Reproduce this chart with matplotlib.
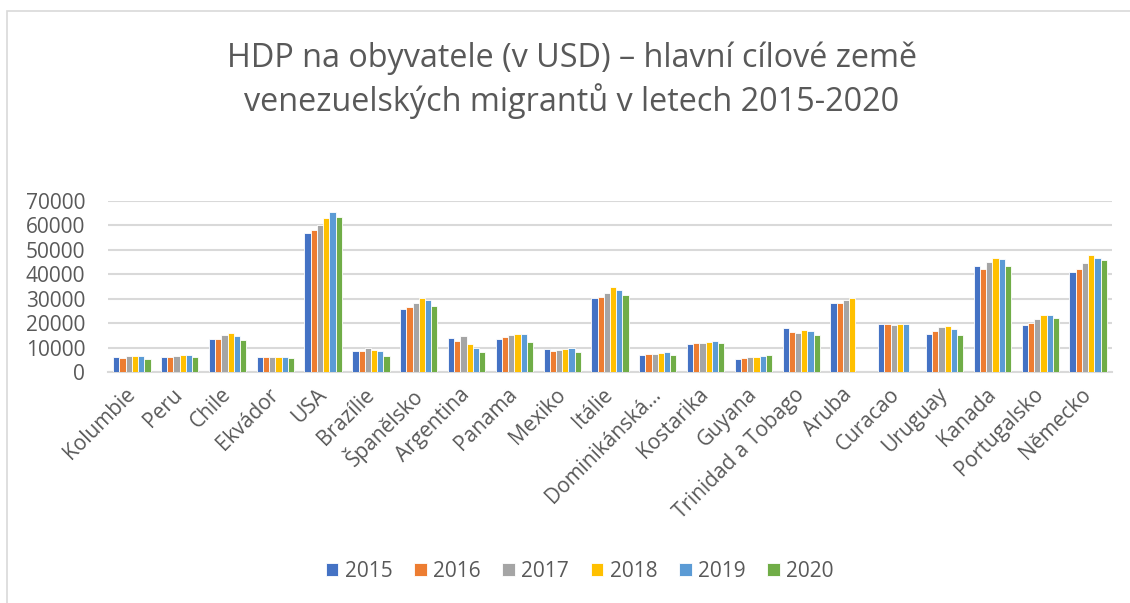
import numpy as np
import matplotlib.pyplot as plt
from matplotlib.patches import Rectangle

plt.rcParams['font.family'] = ['Open Sans', 'DejaVu Sans']

countries = ["Kolumbie", "Peru", "Chile", "Ekvádor", "USA", "Brazílie",
             "Španělsko", "Argentina", "Panama", "Mexiko", "Itálie",
             "Dominikánská...", "Kostarika", "Guyana", "Trinidad a Tobago",
             "Aruba", "Curacao", "Uruguay", "Kanada", "Portugalsko", "Německo"]
years = ["2015", "2016", "2017", "2018", "2019", "2020"]

nan = np.nan
gdp_2015 = [6150, 6150, 13500, 5950, 56900, 8800, 25700, 13800, 13600, 9500,
            30200, 6800, 11400, 5400, 18200, 28300, 19800, 15500, 43500, 19200, 41000]
gdp_2016 = [5700, 6200, 13600, 5950, 58100, 8600, 26500, 12700, 14300, 8600,
            30900, 7200, 11800, 5650, 16200, 28400, 19600, 16600, 42300, 19900, 42100]
gdp_2017 = [6350, 6700, 15000, 6050, 60200, 9900, 28200, 14600, 15100, 9100,
            32300, 7500, 12050, 5950, 16100, 29300, 19400, 18600, 45100, 21500, 44600]
gdp_2018 = [6650, 7000, 15800, 6200, 63000, 9000, 30400, 11500, 15500, 9500,
            34600, 7950, 12400, 6000, 17100, 30200, 19600, 18700, 46500, 23500, 47800]
gdp_2019 = [6350, 7000, 14600, 6100, 65300, 8800, 29500, 9900, 15700, 9800,
            33500, 8150, 12550, 6500, 16700, nan, 19700, 17700, 46300, 23200, 46500]
gdp_2020 = [5200, 6050, 13200, 5550, 63500, 6750, 27000, 8300, 12100, 8200,
            31600, 7150, 12000, 6900, 15300, nan, nan, 15300, 43200, 22300, 45800]
series = [gdp_2015, gdp_2016, gdp_2017, gdp_2018, gdp_2019, gdp_2020]
colors = ["#4472C4", "#ED7D31", "#A5A5A5", "#FFC000", "#5B9BD5", "#70AD47"]

text_col = "#595959"
grid_col = "#D9D9D9"

fig = plt.figure(figsize=(11.3, 6.03), dpi=100)

# chart frame like Excel
fig.patches.append(Rectangle((7 / 1130, -0.05), 1.2, (603 - 11) / 603 + 0.05,
                             transform=fig.transFigure, fill=False,
                             edgecolor=grid_col, lw=1.2))

ax = fig.add_axes([108 / 1130, (603 - 372) / 603, 1004 / 1130, 171 / 603])

x = np.arange(len(countries))
bw = 0.13
for i, (vals, c, yr) in enumerate(zip(series, colors, years)):
    ax.bar(x + (i - 2.5) * bw, vals, width=bw, color=c, edgecolor="white",
           linewidth=0.6, label=yr, zorder=3)

ax.set_xlim(-0.5, len(countries) - 0.5)
ax.set_ylim(0, 70000)
ax.set_yticks(range(0, 70001, 10000))
ax.yaxis.grid(True, color=grid_col, lw=1.5, zorder=0)
ax.tick_params(axis="y", length=0, pad=16.5, labelsize=15, labelcolor=text_col)
ax.set_xticks(x)
ax.set_xticklabels(countries, rotation=45, ha="right", va="center",
                   rotation_mode="anchor", fontsize=15, color=text_col)
ax.tick_params(axis="x", length=0, pad=14)
for s in ["top", "right", "left"]:
    ax.spines[s].set_visible(False)
ax.spines["bottom"].set_color(grid_col)
ax.spines["bottom"].set_linewidth(1.5)

fig.text(0.506, 0.867, "HDP na obyvatele (v USD) – hlavní cílové země\n"
         "venezuelských migrantů v letech 2015-2020",
         ha="center", va="center", fontsize=23.3, color=text_col, linespacing=1.3)

leg = fig.legend(loc="center", bbox_to_anchor=(0.513, 0.052), ncol=6, frameon=False,
                 fontsize=15, handlelength=0.6, handleheight=0.6, handletextpad=0.3,
                 columnspacing=1.05)
for t in leg.get_texts():
    t.set_color(text_col)

fig.savefig("out.png", dpi=100)
